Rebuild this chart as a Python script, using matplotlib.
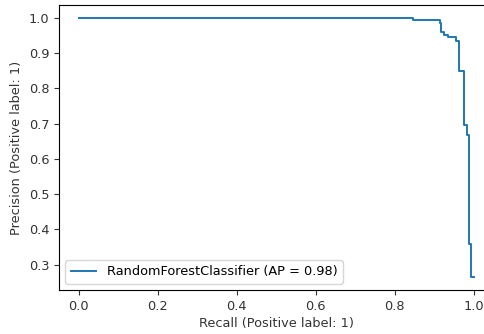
import matplotlib
matplotlib.use("Agg")
import matplotlib.pyplot as plt

# precision-recall curve vertices
recall = [0.0, 0.846, 0.846, 0.914, 0.914, 0.918, 0.918, 0.925, 0.925, 0.935,
          0.935, 0.955, 0.955, 0.962, 0.962, 0.975, 0.975, 0.982, 0.982, 0.989,
          0.989, 0.993, 0.993, 1.0]
precision = [1.0, 1.0, 0.995, 0.995, 0.985, 0.985, 0.96, 0.96, 0.952, 0.952,
             0.945, 0.945, 0.935, 0.935, 0.85, 0.85, 0.695, 0.695, 0.668, 0.668,
             0.36, 0.36, 0.265, 0.265]
label = "RandomForestClassifier (AP = 0.98)"

plt.rcParams["font.size"] = 9.3

fig = plt.figure(figsize=(4.85, 3.34), dpi=100)
ax = fig.add_axes([0.1216, 0.1317, 0.896, 0.8533])
ax.plot(recall, precision, color="#1f77b4", linewidth=1.4, label=label)
ax.set_xlim(-0.05, 1.05)
ax.set_ylim(0.2283, 1.0368)
ax.set_xticks([0.0, 0.2, 0.4, 0.6, 0.8, 1.0])
ax.set_yticks([0.3, 0.4, 0.5, 0.6, 0.7, 0.8, 0.9, 1.0])
ax.tick_params(length=3.5, width=0.8, colors="#333333", labelcolor="#333333")
ax.set_xlabel("Recall (Positive label: 1)", color="#333333", labelpad=3)
ax.set_ylabel("Precision (Positive label: 1)", color="#333333")
ax.legend(loc="lower left")

fig.savefig("out.png", dpi=100)
